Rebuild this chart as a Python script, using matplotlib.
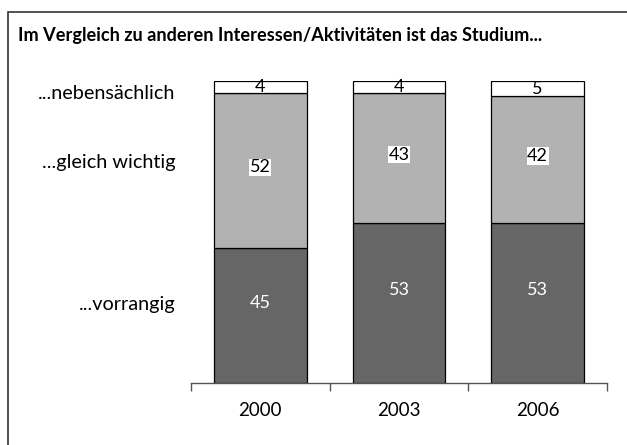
import numpy as np
import matplotlib
matplotlib.use("Agg")
import matplotlib.pyplot as plt
from matplotlib.patches import Rectangle

plt.rcParams['font.family'] = ['Lato', 'DejaVu Sans']

# Daten
jahre = ['2000', '2003', '2006']
vorrangig = [45, 53, 53]
gleich_wichtig = [52, 43, 42]
nebensaechlich = [4, 4, 5]
kategorien = ['...vorrangig', '...gleich wichtig', '...nebensächlich']
titel = 'Im Vergleich zu anderen Interessen/Aktivitäten ist das Studium...'

# auf 100 % normieren (gestapelte 100%-Säulen)
werte = np.array([vorrangig, gleich_wichtig, nebensaechlich], dtype=float)
anteile = werte / werte.sum(axis=0) * 100

farben = ['#666666', '#b2b2b2', '#ffffff']
textfarben = ['white', 'black', 'black']
versatz = [9, 2.5, 0]   # Label etwas über die Segmentmitte (in pt)

fig = plt.figure(figsize=(6.27, 4.45), dpi=100)
ax = fig.add_axes([191 / 627, 62 / 445, 416 / 627, 302 / 445])

x = np.arange(len(jahre))
unten = np.zeros(len(jahre))
for i in range(len(kategorien)):
    ax.bar(x, anteile[i], 0.67, bottom=unten, color=farben[i],
           edgecolor='black', linewidth=0.9, zorder=2)
    for j in range(len(jahre)):
        mitte = unten[j] + anteile[i][j] / 2
        box = None
        if i == 1:
            box = dict(facecolor='white', edgecolor='none', pad=0.5)
        ax.annotate(str(int(werte[i][j])), (x[j], mitte),
                    xytext=(0, versatz[i]), textcoords='offset points',
                    ha='center', va='center', fontsize=13,
                    color=textfarben[i], bbox=box, zorder=3)
    unten += anteile[i]

ax.set_xlim(-0.5, len(jahre) - 0.5)
ax.set_ylim(0, 100)
ax.set_xticks(x)
ax.set_xticklabels(jahre, fontsize=13.5)
ax.set_xticks(np.arange(len(jahre) + 1) - 0.5, minor=True)
ax.tick_params(axis='x', which='major', length=0, pad=14)
ax.tick_params(axis='x', which='minor', length=6, width=1, color='#555555',
               direction='out')
ax.set_yticks([])
for s in ['left', 'right', 'top']:
    ax.spines[s].set_visible(False)
ax.spines['bottom'].set_color('#555555')
ax.spines['bottom'].set_linewidth(1)

# Kategorien links neben den Säulen
ax.text(-0.61, 26, kategorien[0], ha='right', va='center', fontsize=14.3)
ax.text(-0.61, 73, kategorien[1], ha='right', va='center', fontsize=14.3)
ax.text(-0.61, 96, kategorien[2], ha='right', va='center', fontsize=14.3)

# Rahmen und Titel
fig.patches.append(Rectangle((8 / 627, -0.1), 1.2, (445 - 12) / 445 + 0.1,
                             transform=fig.transFigure, fill=False,
                             edgecolor='#333333', linewidth=1.2))
fig.text(18 / 627, 1 - 36 / 445, titel, fontsize=13.1, fontweight='bold',
         ha='left', va='center')

fig.savefig('out.png', dpi=100)
